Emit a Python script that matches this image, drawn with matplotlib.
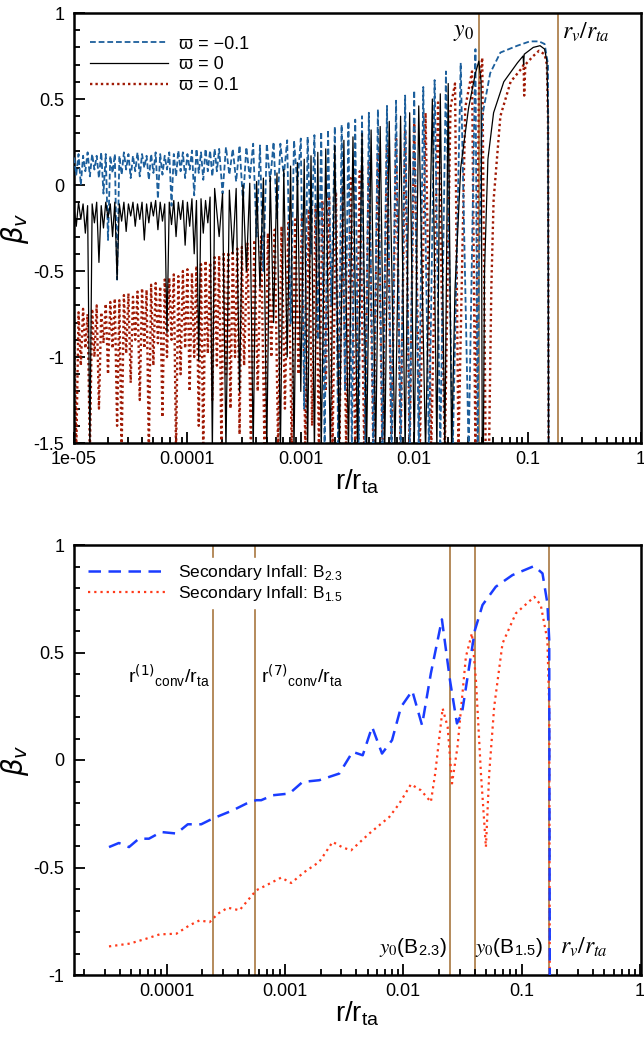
import numpy as np
import matplotlib
matplotlib.use("Agg")
import matplotlib.pyplot as plt
from matplotlib.ticker import FixedLocator, LogLocator, MultipleLocator, NullFormatter

plt.rcParams['font.family'] = ['Liberation Sans', 'DejaVu Sans']
plt.rcParams['axes.unicode_minus'] = False
plt.rcParams['mathtext.fontset'] = 'dejavusans'

# ---------------- top panel: beta_v for three values of varpi ----------------
# vertices of each curve: log10(r/r_ta) and beta_v
blue_log_r = [-5.00, -4.98, -4.96, -4.94, -4.92, -4.90, -4.88, -4.86, -4.84, -4.82,
              -4.80, -4.78, -4.76, -4.74, -4.72, -4.70, -4.68, -4.66, -4.64, -4.62,
              -4.60, -4.58, -4.56, -4.54, -4.52, -4.50, -4.48, -4.46, -4.44, -4.42,
              -4.40, -4.38, -4.36, -4.34, -4.32, -4.30, -4.28, -4.26, -4.24, -4.22,
              -4.20, -4.18, -4.16, -4.14, -4.12, -4.10, -4.08, -4.06, -4.04, -4.02,
              -4.00, -3.98, -3.96, -3.94, -3.92, -3.90, -3.88, -3.86, -3.84, -3.82,
              -3.80, -3.78, -3.76, -3.74, -3.72, -3.69, -3.66, -3.63, -3.60, -3.57,
              -3.54, -3.51, -3.48, -3.45, -3.42, -3.39, -3.36, -3.33, -3.30, -3.27,
              -3.24, -3.21, -3.18, -3.15, -3.12, -3.09, -3.06, -3.03, -3.00, -2.97,
              -2.94, -2.91, -2.88, -2.85, -2.82, -2.79, -2.76, -2.73, -2.70, -2.67,
              -2.64, -2.61, -2.58, -2.55, -2.52, -2.49, -2.46, -2.43, -2.40, -2.36,
              -2.32, -2.28, -2.24, -2.20, -2.16, -2.12, -2.08, -2.04, -2.00, -1.96,
              -1.92, -1.87, -1.82, -1.77, -1.72, -1.66, -1.59, -1.52, -1.46, -1.44,
              -1.43, -1.40, -1.33, -1.24, -1.09, -0.98, -0.90, -0.85, -0.82, -0.815]
blue_beta = [0.16, 0.06, 0.18, 0.00, 0.17, 0.08, 0.19, 0.05, 0.18, 0.09,
             0.17, 0.04, 0.19, -0.05, 0.18, -0.32, 0.17, 0.07, 0.18, -0.55,
             0.17, 0.06, 0.19, 0.09, 0.18, 0.04, 0.17, 0.08, 0.19, 0.05,
             0.18, 0.10, 0.17, 0.03, 0.18, 0.07, 0.19, -0.08, 0.18, 0.06,
             0.17, 0.09, 0.19, -0.12, 0.18, 0.05, 0.20, 0.08, 0.19, 0.04,
             0.18, 0.09, 0.20, -0.06, 0.21, 0.07, 0.19, 0.03, 0.21, 0.08,
             0.20, 0.05, 0.21, 0.08, 0.21, -0.05, 0.22, 0.06, 0.21, 0.02,
             0.23, -0.10, 0.22, 0.04, 0.24, -0.30, 0.23, -0.50, 0.24, 0.02,
             0.25, -0.20, 0.24, 0.05, 0.26, -0.81, 0.26, 0.00, 0.27, -1.30,
             0.28, -0.40, 0.29, -0.90, 0.31, -1.55, 0.32, -0.70, 0.34, -1.55,
             0.35, -1.20, 0.37, -1.55, 0.38, -1.55, 0.40, -1.55, 0.42, -1.55,
             0.44, -1.55, 0.46, -1.55, 0.49, -1.55, 0.52, -1.55, 0.55, -1.55,
             0.57, -1.55, 0.61, -1.55, 0.66, -1.55, 0.71, -1.55, 0.79, -1.55,
             -0.50, 0.40, 0.65, 0.77, 0.81, 0.835, 0.835, 0.82, 0.70, -1.55]

black_log_r = [-5.00, -4.98, -4.96, -4.94, -4.92, -4.90, -4.88, -4.86, -4.84, -4.82,
               -4.80, -4.78, -4.76, -4.74, -4.72, -4.70, -4.68, -4.66, -4.64, -4.62,
               -4.60, -4.58, -4.56, -4.54, -4.52, -4.50, -4.48, -4.46, -4.44, -4.42,
               -4.40, -4.38, -4.36, -4.34, -4.32, -4.30, -4.28, -4.26, -4.24, -4.22,
               -4.20, -4.18, -4.16, -4.14, -4.12, -4.10, -4.08, -4.06, -4.04, -4.02,
               -4.00, -3.98, -3.96, -3.94, -3.92, -3.90, -3.88, -3.86, -3.84, -3.82,
               -3.80, -3.78, -3.76, -3.72, -3.69, -3.66, -3.63, -3.60, -3.57, -3.54,
               -3.51, -3.48, -3.45, -3.42, -3.39, -3.36, -3.33, -3.30, -3.27, -3.24,
               -3.21, -3.18, -3.15, -3.12, -3.09, -3.06, -3.03, -3.00, -2.97, -2.94,
               -2.91, -2.88, -2.85, -2.82, -2.78, -2.74, -2.70, -2.66, -2.62, -2.58,
               -2.54, -2.50, -2.46, -2.42, -2.38, -2.34, -2.30, -2.26, -2.22, -2.17,
               -2.12, -2.08, -2.04, -2.00, -1.96, -1.90, -1.84, -1.80, -1.77, -1.73,
               -1.70, -1.67, -1.64, -1.59, -1.52, -1.46, -1.43, -1.41, -1.40, -1.39,
               -1.38, -1.35, -1.30, -1.21, -1.09, -1.04, -1.035, -1.03, -0.95, -0.89,
               -0.85, -0.83, -0.82, -0.815]
black_beta = [-0.13, -0.24, -0.10, -0.20, -0.11, -0.28, -0.12, -1.55, -0.11, -0.22,
              -0.10, -0.45, -0.12, -0.25, -0.10, -0.19, -0.11, -0.30, -0.10, -0.55,
              -0.11, -0.21, -0.10, -0.27, -0.11, -0.18, -0.10, -0.24, -0.11, -0.20,
              -0.10, -0.32, -0.11, -0.22, -0.10, -0.18, -0.09, -0.26, -0.10, -0.21,
              -0.11, -0.86, -0.10, -0.23, -0.09, -0.30, -0.10, -0.20, -0.09, -0.35,
              -0.10, -0.24, -0.08, -0.40, -0.09, -1.02, -0.08, -0.28, -0.09, -0.22,
              -0.07, -1.55, -0.02, -0.30, -0.05, -1.55, -0.03, -0.40, -0.02, -1.20,
              0.00, -0.50, 0.01, -1.55, 0.02, -0.60, 0.04, -1.55, 0.05, -0.80,
              0.07, -1.55, 0.09, -1.00, 0.11, -1.55, 0.13, -1.20, 0.15, -1.55,
              0.17, -1.55, 0.19, -1.55, 0.21, -1.55, 0.23, -1.55, 0.26, -1.55,
              0.28, -1.55, 0.30, -1.55, 0.32, -1.55, 0.34, -1.55, 0.37, -1.55,
              0.40, -1.55, 0.42, -1.55, 0.46, -1.55, 0.50, -1.55, 0.53, -1.55,
              0.59, -1.55, -0.60, 0.10, 0.45, 0.65, 0.72, 0.60, -1.55, -1.55,
              -0.50, 0.15, 0.42, 0.60, 0.71, 0.75, 0.70, 0.76, 0.80, 0.81,
              0.79, 0.72, 0.40, -1.55]

red_log_r = [-5.00, -4.98, -4.96, -4.94, -4.92, -4.90, -4.88, -4.86, -4.84, -4.82,
             -4.80, -4.78, -4.76, -4.74, -4.72, -4.70, -4.68, -4.66, -4.64, -4.62,
             -4.60, -4.58, -4.56, -4.54, -4.52, -4.50, -4.48, -4.46, -4.44, -4.42,
             -4.40, -4.38, -4.36, -4.34, -4.32, -4.30, -4.28, -4.26, -4.24, -4.22,
             -4.20, -4.18, -4.16, -4.14, -4.12, -4.10, -4.08, -4.06, -4.04, -4.02,
             -4.00, -3.98, -3.96, -3.94, -3.92, -3.90, -3.88, -3.86, -3.84, -3.82,
             -3.80, -3.78, -3.76, -3.74, -3.72, -3.70, -3.68, -3.66, -3.64, -3.62,
             -3.60, -3.58, -3.56, -3.54, -3.52, -3.50, -3.47, -3.44, -3.41, -3.38,
             -3.35, -3.32, -3.29, -3.26, -3.23, -3.20, -3.17, -3.14, -3.11, -3.08,
             -3.05, -3.02, -2.99, -2.96, -2.93, -2.90, -2.87, -2.84, -2.81, -2.78,
             -2.75, -2.72, -2.69, -2.66, -2.63, -2.60, -2.56, -2.52, -2.48, -2.44,
             -2.40, -2.36, -2.32, -2.28, -2.24, -2.20, -2.16, -2.12, -2.08, -2.04,
             -2.00, -1.95, -1.90, -1.85, -1.79, -1.73, -1.68, -1.64, -1.61, -1.55,
             -1.49, -1.46, -1.43, -1.40, -1.37, -1.34, -1.32, -1.30, -1.24, -1.15,
             -1.05, -1.035, -1.03, -1.02, -0.95, -0.90, -0.85, -0.83, -0.82, -0.815]
red_beta = [-0.78, -1.55, -0.74, -1.05, -0.72, -0.95, -0.75, -1.55, -0.72, -1.00,
            -0.70, -1.30, -0.74, -0.92, -0.69, -1.10, -0.68, -0.95, -0.66, -1.40,
            -0.67, -1.55, -0.64, -0.98, -0.63, -1.15, -0.65, -0.90, -0.62, -1.25,
            -0.60, -0.95, -0.61, -1.55, -0.58, -1.05, -0.57, -0.92, -0.59, -1.35,
            -0.55, -1.00, -0.54, -0.90, -0.52, -1.55, -0.53, -1.10, -0.50, -0.95,
            -0.49, -1.20, -0.51, -1.00, -0.47, -1.40, -0.46, -1.55, -0.44, -0.98,
            -0.45, -1.25, -0.42, -1.05, -0.41, -1.55, -0.40, -1.10, -0.39, -1.30,
            -0.38, -1.00, -0.37, -1.45, -0.36, -1.05, -0.34, -1.55, -0.32, -1.20,
            -0.30, -1.55, -0.28, -1.00, -0.26, -1.55, -0.24, -1.30, -0.22, -1.55,
            -0.20, -1.10, -0.17, -1.55, -0.14, -1.40, -0.12, -1.55, -0.09, -1.20,
            -0.06, -1.55, -0.04, -1.55, 0.00, -1.55, 0.04, -1.55, 0.08, -1.55,
            0.13, -1.55, 0.18, -1.55, 0.23, -1.55, 0.28, -1.55, 0.32, -1.55,
            0.36, -1.55, 0.42, -1.55, 0.48, -1.55, 0.45, 0.59, -1.55, 0.45,
            0.66, -1.55, 0.55, 0.74, -1.55, -1.55, -0.60, -0.09, 0.40, 0.60,
            0.68, 0.70, 0.52, 0.70, 0.75, 0.78, 0.76, 0.70, 0.40, -1.55]

top_labels = ['ϖ = −0.1', 'ϖ = 0', 'ϖ = 0.1']
top_y0 = 0.0374
top_rv = 0.1846

# ---------------- bottom panel: secondary infall models ----------------
b23_r = [3.26e-5, 3.95e-5, 4.81e-5, 5.83e-5, 7.09e-5, 9.0e-5, 1.21e-4, 1.51e-4, 1.96e-4,
         2.46e-4, 3.63e-4, 4.71e-4, 5.72e-4, 6.3e-4, 7.88e-4, 1.09e-3, 1.41e-3, 1.95e-3,
         2.88e-3, 3.73e-3, 4.54e-3, 5.45e-3, 6.61e-3, 8.03e-3, 9.57e-3, 1.19e-2, 1.44e-2,
         1.71e-2, 2.12e-2, 2.48e-2, 2.84e-2, 3.13e-2, 3.60e-2, 4.03e-2, 4.67e-2, 6.05e-2,
         8.36e-2, 0.1275, 0.15, 0.165, 0.171, 0.173]
b23_beta = [-0.405, -0.386, -0.405, -0.366, -0.366, -0.335, -0.342, -0.299, -0.299,
            -0.272, -0.234, -0.203, -0.187, -0.187, -0.164, -0.156, -0.102, -0.094,
            -0.063, 0.038, 0.022, 0.154, 0.030, 0.092, 0.247, 0.322, 0.162,
            0.403, 0.654, 0.371, 0.170, 0.217, 0.433, 0.604, 0.721, 0.806,
            0.860, 0.902, 0.868, 0.729, 0.558, -1.1]

b15_r = [3.26e-5, 4.88e-5, 6.74e-5, 8.73e-5, 1.21e-4, 1.56e-4, 1.90e-4, 2.31e-4, 2.71e-4,
         3.29e-4, 4.13e-4, 4.85e-4, 5.72e-4, 6.94e-4, 9.29e-4, 1.13e-3, 1.46e-3, 1.95e-3,
         2.53e-3, 3.08e-3, 3.62e-3, 5.16e-3, 7.62e-3, 9.25e-3, 1.16e-2, 1.41e-2, 1.71e-2,
         1.86e-2, 2.15e-2, 2.37e-2, 2.58e-2, 2.87e-2, 3.38e-2, 3.80e-2, 4.11e-2, 4.53e-2,
         4.99e-2, 5.32e-2, 5.86e-2, 6.89e-2, 8.93e-2, 0.128, 0.145, 0.165, 0.171, 0.173]
b15_beta = [-0.867, -0.854, -0.831, -0.811, -0.808, -0.769, -0.746, -0.754, -0.715,
            -0.687, -0.699, -0.653, -0.606, -0.583, -0.547, -0.572, -0.521, -0.474,
            -0.381, -0.407, -0.420, -0.342, -0.265, -0.203, -0.113, -0.141, -0.195,
            -0.063, 0.240, 0.154, -0.109, 0.061, 0.480, 0.589, 0.372, -0.063,
            -0.405, -0.063, 0.247, 0.542, 0.682, 0.759, 0.721, 0.558, 0.247, -1.1]

bottom_labels = [r'Secondary Infall: B$_{\mathregular{2.3}}$',
                 r'Secondary Infall: B$_{\mathregular{1.5}}$']
conv1 = 2.46e-4
conv7 = 5.6e-4
y0_b23 = 0.0249
y0_b15 = 0.0403
rv_bottom = 0.171

BROWN = '#a8773f'
TICK_SIZE = 13


def style_axis(ax, xmin, xmax, ymin, ymax, major_x, major_lbls):
    ax.set_xscale('log')
    ax.set_xlim(xmin, xmax)
    ax.set_ylim(ymin, ymax)
    ax.xaxis.set_major_locator(FixedLocator(major_x))
    ax.set_xticklabels(major_lbls)
    ax.xaxis.set_minor_locator(LogLocator(base=10, subs=np.arange(2, 10), numticks=20))
    ax.xaxis.set_minor_formatter(NullFormatter())
    ax.yaxis.set_major_locator(MultipleLocator(0.5))
    ax.yaxis.set_minor_locator(MultipleLocator(0.1))
    ax.yaxis.set_major_formatter(plt.FuncFormatter(lambda v, p: f'{v:g}'))
    ax.tick_params(which='both', direction='in', top=False, right=False,
                   labelsize=TICK_SIZE, width=1.3)
    ax.tick_params(which='major', length=8)
    ax.tick_params(which='minor', length=4.5)
    ax.tick_params(axis='x', pad=6)
    ax.tick_params(axis='y', pad=7)
    for s in ax.spines.values():
        s.set_linewidth(1.8)
    ax.set_xlabel(r'r/r$_{\mathregular{ta}}$', fontsize=20, labelpad=-1)
    ax.set_ylabel(r'$\beta_v$', fontsize=20, labelpad=2)


fig = plt.figure(figsize=(6.44, 10.47), dpi=100)
ax1 = fig.add_axes([74 / 644, 1 - 443 / 1047, 567 / 644, 430 / 1047])
ax2 = fig.add_axes([74 / 644, 1 - 975 / 1047, 567 / 644, 430 / 1047])

# top panel
ax1.axvline(top_y0, color=BROWN, lw=1.2, zorder=1)
ax1.axvline(top_rv, color=BROWN, lw=1.2, zorder=1)
ax1.plot(10 ** np.array(red_log_r), red_beta, color='#a01a05', lw=1.7,
         dashes=(1, 1.3), label=top_labels[2], zorder=2)
ax1.plot(10 ** np.array(blue_log_r), blue_beta, color='#1c5f9c', lw=1.3,
         dashes=(3.2, 1.6), label=top_labels[0], zorder=3)
ax1.plot(10 ** np.array(black_log_r), black_beta, color='black', lw=0.9,
         label=top_labels[1], zorder=4)
style_axis(ax1, 1e-5, 1.0, -1.5, 1.0,
           [1e-5, 1e-4, 1e-3, 1e-2, 1e-1, 1],
           ['1e-05', '0.0001', '0.001', '0.01', '0.1', '1'])
h, l = ax1.get_legend_handles_labels()
order = [1, 2, 0]
ax1.legend([h[i] for i in order], [l[i] for i in order], loc='upper left',
           bbox_to_anchor=(0.0, 0.985), frameon=False, fontsize=13,
           handlelength=4.3, handletextpad=0.6, labelspacing=0.2)
ax1.text(0.0338, 0.89, r'$y_0$', fontsize=17, ha='right', va='center',
         math_fontfamily='stix')
ax1.text(0.2018, 0.89, r'$r_v/r_{ta}$', fontsize=17, ha='left', va='center',
         math_fontfamily='stix')

# bottom panel
for xv in [conv1, conv7, y0_b23, y0_b15, rv_bottom]:
    ax2.axvline(xv, color=BROWN, lw=1.2, zorder=1)
ax2.plot(b23_r, b23_beta, color='#1a3cff', lw=1.8, dashes=(5, 3),
         label=bottom_labels[0], zorder=3)
ax2.plot(b15_r, b15_beta, color='#ff3a1a', lw=1.6, dashes=(1, 1.8),
         label=bottom_labels[1], zorder=2)
style_axis(ax2, 1.65e-5, 1.02, -1.0, 1.0,
           [1e-4, 1e-3, 1e-2, 1e-1, 1],
           ['0.0001', '0.001', '0.01', '0.1', '1'])
leg = ax2.legend(loc='upper left', bbox_to_anchor=(0.0, 0.99), frameon=True,
                 fontsize=12.5, handlelength=4.6, handletextpad=0.6,
                 labelspacing=0.1, framealpha=1, fancybox=False, borderpad=0.3)
leg.get_frame().set_edgecolor('white')
ax2.text(2.3e-4, 0.39, r'r$^{(1)}$$_{\mathregular{conv}}$/r$_{\mathregular{ta}}$',
         fontsize=14, ha='right', va='center')
ax2.text(6.3e-4, 0.39, r'r$^{(7)}$$_{\mathregular{conv}}$/r$_{\mathregular{ta}}$',
         fontsize=14, ha='left', va='center')
ax2.text(0.0235, -0.87, r'$y_0$(B$_{\mathregular{2.3}}$)', fontsize=15,
         ha='right', va='center', math_fontfamily='stix')
ax2.text(0.153, -0.87, r'$y_0$(B$_{\mathregular{1.5}}$)', fontsize=15,
         ha='right', va='center', math_fontfamily='stix')
ax2.text(0.21, -0.87, r'$r_v/r_{ta}$', fontsize=17, ha='left', va='center',
         math_fontfamily='stix')

fig.savefig('out.png', dpi=100)
